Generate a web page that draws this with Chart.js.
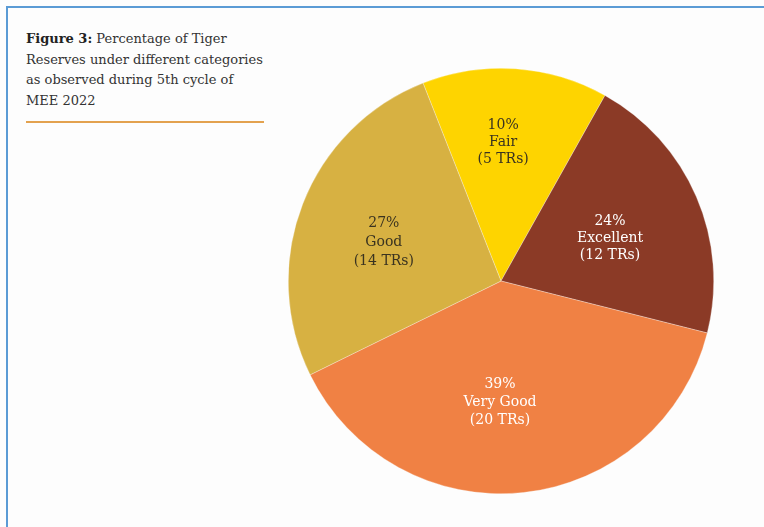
<!DOCTYPE html>
<html>
<head>
<meta charset="utf-8">
<script src="https://cdn.jsdelivr.net/npm/chart.js@4/dist/chart.umd.min.js"></script>
<style>
  html, body { margin: 0; padding: 0; background: #fdfdfd; }
  body { width: 764px; height: 527px; position: relative; overflow: hidden; }
  .frame { position: absolute; left: 6px; top: 6px; right: -10px; bottom: -10px;
           border-left: 2px solid #5b9bd5; border-top: 2px solid #5b9bd5; }
  .caption { position: absolute; left: 26px; top: 29px; width: 260px; white-space: nowrap;
             font-family: "DejaVu Serif", serif; font-size: 13px; line-height: 20.5px; color: #333; }
  .caption b { color: #222; }
  .rule { position: absolute; left: 26px; top: 121px; width: 238px; height: 2px; background: #e3a24f; }
  #wrap { position: absolute; left: 288px; top: 68px; width: 426px; height: 426px; }
</style>
</head>
<body>
<div class="frame"></div>
<div class="caption"><b>Figure 3:</b> Percentage of Tiger<br>Reserves under different categories<br>as observed during 5th cycle of<br>MEE 2022</div>
<div class="rule"></div>
<div id="wrap"><canvas id="pie"></canvas></div>
<script>
// slice order clockwise, starting from the top-left edge of "Fair"
const categories = ['Fair', 'Excellent', 'Very Good', 'Good'];
// slice sizes as drawn in the figure (share of the circle, %)
const sliceShares = [14.1, 20.8, 38.8, 26.3];
// printed labels
const pctLabels = ['10%', '24%', '39%', '27%'];
const countLabels = ['(5 TRs)', '(12 TRs)', '(20 TRs)', '(14 TRs)'];

const colors = ['#fed400', '#8b3a26', '#f08144', '#d7b142'];
const textColors = ['#3a3320', '#ffffff', '#ffffff', '#3a3320'];
// label placement: fraction of radius, angular nudge (deg), line gap
const labelR = [0.65, 0.55, 0.57, 0.58];
const labelNudge = [-3, 2, 6.5, -3];
const lineGap = [17, 17, 18, 19];

const sliceLabels = {
  id: 'sliceLabels',
  afterDatasetsDraw(chart) {
    const ctx = chart.ctx;
    const arcs = chart.getDatasetMeta(0).data;
    ctx.save();
    ctx.font = '14px "DejaVu Serif", serif';
    ctx.textAlign = 'center';
    ctx.textBaseline = 'middle';
    arcs.forEach((arc, i) => {
      const mid = (arc.startAngle + arc.endAngle) / 2 + labelNudge[i] * Math.PI / 180;
      const r = arc.outerRadius * labelR[i];
      const x = arc.x + Math.cos(mid) * r;
      const y = arc.y + Math.sin(mid) * r;
      ctx.fillStyle = textColors[i];
      const lines = [pctLabels[i], categories[i], countLabels[i]];
      lines.forEach((t, k) => ctx.fillText(t, x, y + (k - 1) * lineGap[i]));
    });
    ctx.restore();
  }
};

new Chart(document.getElementById('pie'), {
  type: 'pie',
  data: {
    labels: categories,
    datasets: [{
      data: sliceShares,
      backgroundColor: colors,
      borderColor: 'rgba(253,253,253,0.5)',
      borderWidth: 0.6
    }]
  },
  options: {
    responsive: true,
    maintainAspectRatio: false,
    animation: false,
    rotation: -21.5,
    layout: { padding: 0 },
    plugins: { legend: { display: false }, tooltip: { enabled: false } }
  },
  plugins: [sliceLabels]
});
</script>
</body>
</html>
